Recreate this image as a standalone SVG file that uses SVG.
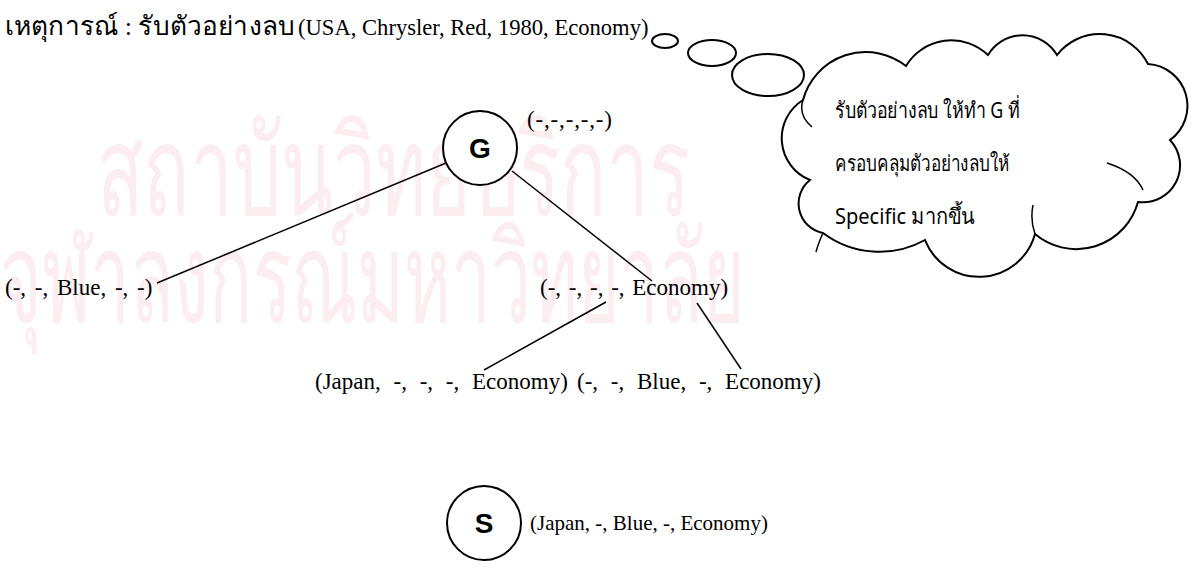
<svg xmlns="http://www.w3.org/2000/svg" width="1193" height="568" viewBox="0 0 1193 568">
  <style>
    .serif { font-family: "Liberation Serif", "Noto Sans", serif; font-size: 23px; fill: #000; }
    .small { font-size: 21px; }
    .title { font-family: "Liberation Serif", "Noto Sans", serif; font-size: 22.6px; fill: #000; }
    .thai { font-family: "Liberation Serif", "Noto Sans", serif; font-size: 26px; fill: #000; }
    .sans { font-family: "Noto Sans", "DejaVu Sans", sans-serif; font-size: 22px; fill: #000; }
    .wm { font-family: "Noto Sans", "DejaVu Sans", sans-serif; font-size: 125px; fill: #fcedf1; }
    .ln { stroke: #000; stroke-width: 1.5; fill: none; }
    .node { fill: #fff; stroke: #000; stroke-width: 2; }
    .cap { font-family: "Liberation Sans", Arial, sans-serif; font-weight: bold; font-size: 28px; text-anchor: middle; fill: #000; }
    .bubble { fill: #fff; stroke: #000; stroke-width: 2; }
  </style>

  <rect width="1193" height="568" fill="#fff"/>

  <!-- faint background lettering -->
  <g id="watermark">
    <text class="wm" x="97" y="215" textLength="593" lengthAdjust="spacingAndGlyphs">สถาบันวิทยบริการ</text>
    <text class="wm" x="0" y="322" textLength="745" lengthAdjust="spacingAndGlyphs">จุฬาลงกรณ์มหาวิทยาลัย</text>
  </g>

  <g id="title">
    <text class="thai" x="5" y="35" textLength="290" lengthAdjust="spacingAndGlyphs">เหตุการณ์ : รับตัวอย่างลบ</text>
    <text class="title" x="298" y="35">(USA, Chrysler, Red, 1980, Economy)</text>
  </g>

  <g id="connectors">
    <line class="ln" x1="446" y1="163" x2="157" y2="283"/>
    <line class="ln" x1="512" y1="171" x2="652" y2="281"/>
    <line class="ln" x1="606" y1="302" x2="484" y2="370"/>
    <line class="ln" x1="697" y1="303" x2="741" y2="369"/>
  </g>

  <g id="node-G">
    <circle class="node" cx="480" cy="148" r="37"/>
    <text class="cap" x="480" y="158">G</text>
    <text class="serif" x="527" y="127" textLength="85">(-,-,-,-,-)</text>
  </g>

  <g id="node-blue">
    <text class="serif" x="5" y="295" word-spacing="3">(-, -, Blue, -, -)</text>
  </g>

  <g id="node-economy">
    <text class="serif" x="540" y="295" word-spacing="2">(-, -, -, -, Economy)</text>
  </g>

  <g id="node-japan-economy">
    <text class="serif" x="315" y="389" word-spacing="7">(Japan, -, -, -, Economy)</text>
  </g>

  <g id="node-blue-economy">
    <text class="serif" x="577" y="389" word-spacing="7">(-, -, Blue, -, Economy)</text>
  </g>

  <g id="node-S">
    <circle class="node" cx="484" cy="523" r="37"/>
    <text class="cap" x="484" y="533">S</text>
    <text class="serif small" x="530" y="530">(Japan, -, Blue, -, Economy)</text>
  </g>

  <g id="thought">
    <ellipse class="bubble" cx="665" cy="41" rx="13" ry="7"/>
    <ellipse class="bubble" cx="712" cy="53" rx="24" ry="13"/>
    <ellipse class="bubble" cx="768" cy="75" rx="36" ry="21"/>
    <path class="bubble" d="M 803,100 A 65 65 0 0 1 906,66 A 53 53 0 0 1 988,55 A 40 40 0 0 1 1057,55 A 54 54 0 0 1 1148,64 A 42 42 0 0 1 1170,140 A 37 37 0 0 1 1138,202 A 64 64 0 0 1 1035,234 A 58 58 0 0 1 925,240 A 94 94 0 0 1 823,233 A 30 30 0 0 1 810,180 A 45 45 0 0 1 803,100 Z"/>
    <path class="ln" stroke-width="2" d="M 812,127 Q 798,115 803,100 M 1035,234 Q 1030,220 1033,205 M 1107,163 Q 1135,172 1143,190 M 823,233 Q 818,244 816,252"/>
    <text class="sans" x="835" y="118" textLength="185" lengthAdjust="spacingAndGlyphs">รับตัวอย่างลบ ให้ทำ G ที่</text>
    <text class="sans" x="835" y="171" textLength="175" lengthAdjust="spacingAndGlyphs">ครอบคลุมตัวอย่างลบให้</text>
    <text class="sans" x="835" y="224" textLength="140" lengthAdjust="spacingAndGlyphs">Specific มากขึ้น</text>
  </g>
</svg>
